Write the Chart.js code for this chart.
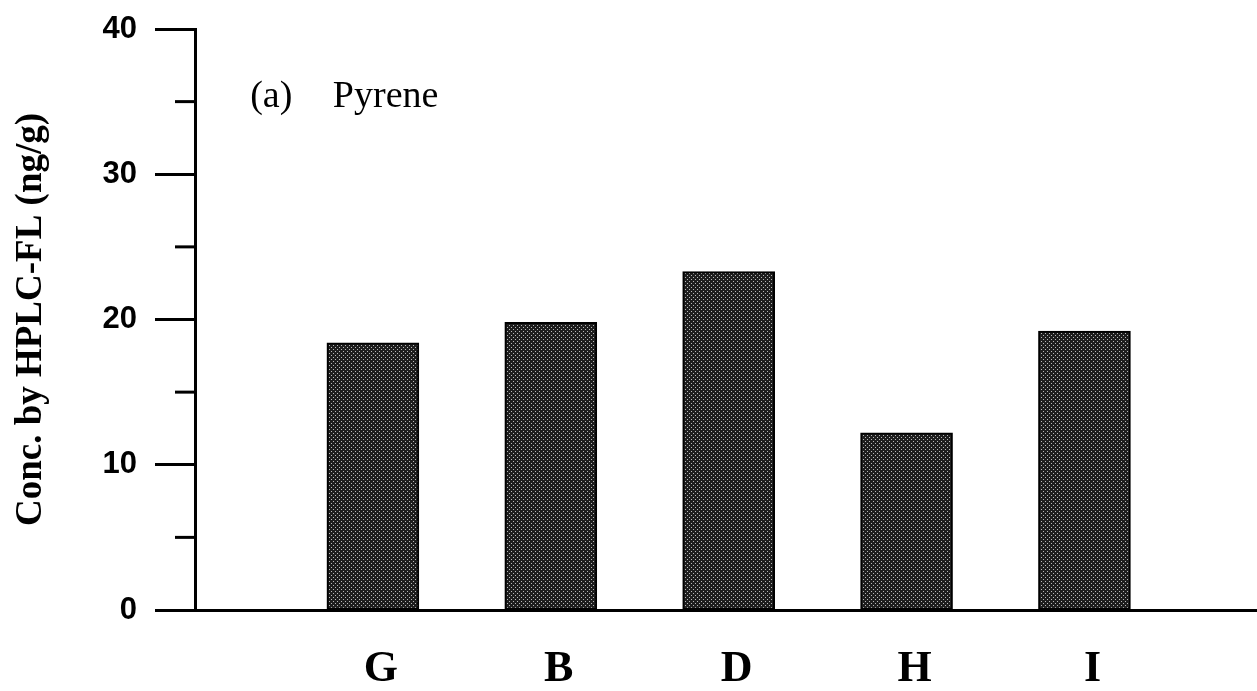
<!DOCTYPE html>
<html>
<head>
<meta charset="utf-8">
<script src="https://cdn.jsdelivr.net/npm/chart.js@4/dist/chart.umd.min.js"></script>
<style>
html,body{margin:0;padding:0;background:#fff;}
#wrap{width:1257px;height:691px;position:relative;}
</style>
</head>
<body>
<div id="wrap"><canvas id="c" width="1257" height="691"></canvas></div>
<script>
// ---- data ----
const categories = ['G', 'B', 'D', 'H', 'I'];
const values = [18.4, 19.8, 23.3, 12.2, 19.2];
const yMajorTicks = [0, 10, 20, 30, 40];
const yMinorTicks = [5, 15, 25, 35];
const panelLabel = '(a)';
const compoundName = 'Pyrene';
const yTitle = 'Conc. by HPLC-FL (ng/g)';

// stipple pattern for bars
function makePattern() {
  const p = document.createElement('canvas');
  p.width = 4; p.height = 4;
  const g = p.getContext('2d');
  g.fillStyle = '#1e1e1e';
  g.fillRect(0, 0, 4, 4);
  g.fillStyle = '#b8b8b8';
  g.fillRect(1, 1, 1, 1);
  g.fillRect(3, 3, 1, 1);
  return document.getElementById('c').getContext('2d').createPattern(p, 'repeat');
}

const minorTicksPlugin = {
  id: 'minorTicks',
  afterDraw(chart) {
    const y = chart.scales.y;
    const ctx = chart.ctx;
    ctx.save();
    ctx.strokeStyle = '#000';
    ctx.lineWidth = 3;
    const xr = chart.chartArea.left;
    yMinorTicks.forEach(v => {
      const py = y.getPixelForValue(v);
      ctx.beginPath();
      ctx.moveTo(xr - 20, py);
      ctx.lineTo(xr, py);
      ctx.stroke();
    });
    ctx.restore();
  }
};

const labelPlugin = {
  id: 'panelLabel',
  afterDraw(chart) {
    const ctx = chart.ctx;
    ctx.save();
    ctx.fillStyle = '#000';
    ctx.font = '38px "Liberation Serif", "Times New Roman", serif';
    ctx.textBaseline = 'middle';
    ctx.textAlign = 'left';
    const x = chart.scales.x;
    const y = chart.scales.y;
    ctx.fillText(panelLabel, x.getPixelForValue(0.31), y.getPixelForValue(35.3));
    ctx.fillText(compoundName, x.getPixelForValue(0.775), y.getPixelForValue(35.3));
    ctx.restore();
  }
};

const data = categories.map((c, i) => ({ x: i + 1, y: values[i] }));

new Chart(document.getElementById('c'), {
  type: 'bar',
  data: {
    datasets: [{
      data: data,
      backgroundColor: makePattern(),
      borderColor: '#000',
      borderWidth: 2,
      borderSkipped: false,
      barThickness: 92
    }]
  },
  plugins: [minorTicksPlugin, labelPlugin],
  options: {
    responsive: false,
    animation: false,
    layout: { padding: { top: 29, right: 0, left: 0, bottom: 0 } },
    plugins: { legend: { display: false }, tooltip: { enabled: false } },
    scales: {
      x: {
        type: 'linear',
        offset: false,
        min: 0,
        max: 5.97,
        grid: { display: false, drawTicks: false, offset: false },
        border: { display: true, color: '#000', width: 3 },
        ticks: {
          stepSize: 1,
          autoSkip: false,
          maxRotation: 0,
          padding: 33,
          labelOffset: 8,
          color: '#000',
          font: { family: '"Liberation Serif", "Times New Roman", serif', size: 44, weight: 'bold' },
          callback: (v) => (Number.isInteger(v) && v >= 1 && v <= categories.length) ? categories[v - 1] : ''
        },
        afterFit(s) { s.height = 81; s.paddingLeft = 0; s.paddingRight = 0; }
      },
      y: {
        min: 0,
        max: 40,
        afterBuildTicks(s) { s.ticks = yMajorTicks.map(v => ({ value: v })); },
        grid: { drawOnChartArea: false, drawTicks: true, tickLength: 40, tickWidth: 3, tickColor: '#000' },
        border: { display: true, color: '#000', width: 3 },
        ticks: {
          padding: 18,
          color: '#000',
          font: { family: '"Liberation Sans", Arial, sans-serif', size: 31, weight: 'bold' }
        },
        title: {
          display: true,
          text: yTitle,
          color: '#000',
          padding: { top: 9, bottom: 0 },
          font: { family: '"Liberation Serif", "Times New Roman", serif', size: 37, weight: 'bold' }
        },
        afterFit(s) { s.width = 195; s.paddingTop = 0; s.paddingBottom = 0; }
      }
    }
  }
});
</script>
</body>
</html>
